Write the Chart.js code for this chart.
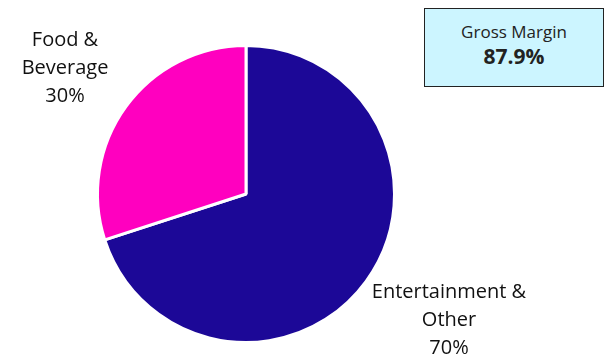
<!DOCTYPE html>
<html>
<head>
<meta charset="utf-8">
<script src="https://cdn.jsdelivr.net/npm/chart.js@4"></script>
<style>
  body { margin: 0; background: #fff; }
  #wrap { position: relative; width: 606px; height: 354px; }
  #box {
    position: absolute; left: 424px; top: 8px; width: 178px; height: 77px;
    background: #ccf5ff; border: 1.5px solid #222;
    font-family: "Open Sans", sans-serif; color: #222; text-align: center;
  }
  #box .t { font-size: 17px; margin-top: 12px; line-height: 22px; }
  #box .v { font-size: 21px; font-weight: bold; line-height: 27px; }
</style>
</head>
<body>
<div id="wrap">
  <canvas id="pie" width="606" height="354"></canvas>
  <div id="box"><div class="t">Gross Margin</div><div class="v">87.9%</div></div>
</div>
<script>
const categories = ['Entertainment & Other', 'Food & Beverage'];
const shares = [70, 30];
const sliceColors = ['#1c0897', '#ff00bf'];

// Etiketten neben den Segmenten
const labelPlugin = {
    id: 'outerLabels',
    afterDraw(chart) {
        const ctx = chart.ctx;
        ctx.save();
        ctx.fillStyle = '#111';
        ctx.font = '20px "Open Sans", sans-serif';
        ctx.textAlign = 'center';
        ctx.textBaseline = 'middle';
        const blocks = [
            { x: 449, y: 292, lines: ['Entertainment &', 'Other', shares[0] + '%'] },
            { x: 65, y: 40, lines: ['Food &', 'Beverage', shares[1] + '%'] }
        ];
        blocks.forEach(b => {
            b.lines.forEach((l, i) => ctx.fillText(l, b.x, b.y + i * 28));
        });
        ctx.restore();
    }
};

new Chart(document.getElementById('pie'), {
    type: 'pie',
    data: {
        labels: categories,
        datasets: [{
            data: shares,
            backgroundColor: sliceColors,
            borderColor: '#fff',
            borderWidth: 3
        }]
    },
    options: {
        responsive: false,
        animation: false,
        layout: { padding: { left: 96, right: 210, top: 44, bottom: 10 } },
        plugins: { legend: { display: false }, tooltip: { enabled: false } }
    },
    plugins: [labelPlugin]
});
</script>
</body>
</html>
